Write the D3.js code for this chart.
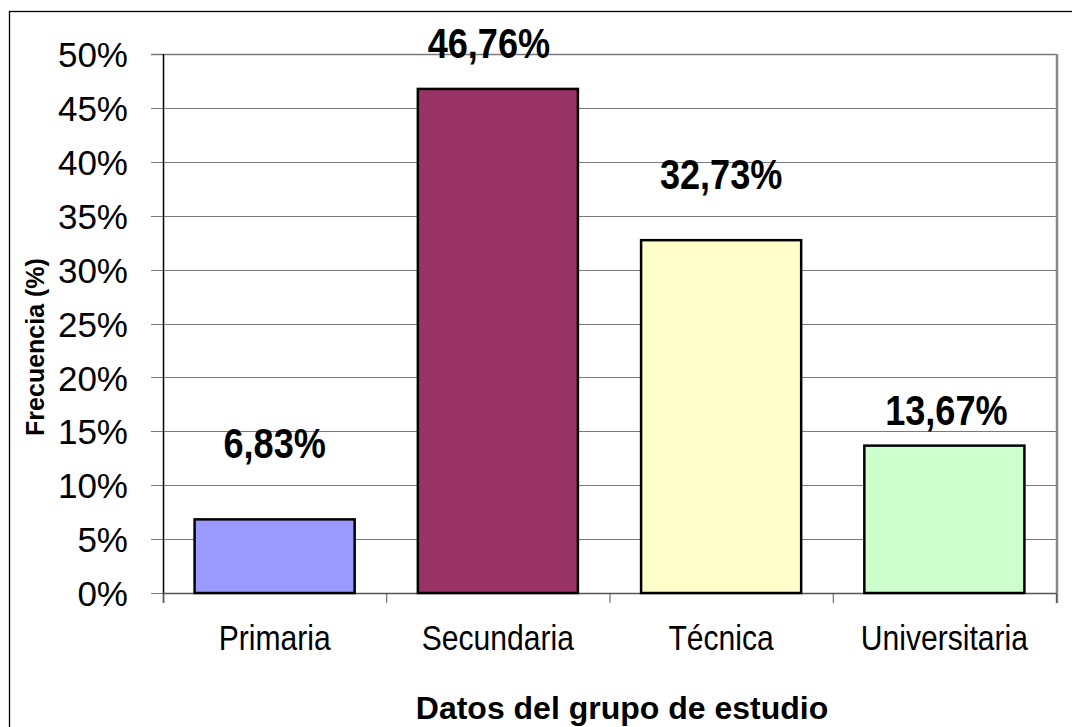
<!DOCTYPE html>
<html>
<head>
<meta charset="utf-8">
<script src="https://cdn.jsdelivr.net/npm/d3@7"></script>
<style>
  html, body { margin: 0; padding: 0; background: #fff; }
  svg { display: block; }
</style>
</head>
<body>
<div id="main"></div>
<script>
// chart values
var categories = ["Primaria", "Secundaria", "Técnica", "Universitaria"];
var values = [6.83, 46.76, 32.73, 13.67];
var valueLabels = ["6,83%", "46,76%", "32,73%", "13,67%"];
var barColors = ["#9999ff", "#993366", "#ffffcc", "#ccffcc"];
var yTicks = [0, 5, 10, 15, 20, 25, 30, 35, 40, 45, 50];
var yTitle = "Frecuencia (%)";
var xTitle = "Datos del grupo de estudio";

var w = 1072, h = 727;
var margin = { top: 54, left: 163, right: 16, bottom: 134 };
var iw = w - margin.left - margin.right,
	ih = h - margin.top - margin.bottom;
var font = "'Liberation Sans', Arial, sans-serif";
var narrow = 0.86; // no Arial Narrow here, so squeeze Liberation Sans

var svg = d3.select("#main")
	.append("svg")
	.attr("width", w)
	.attr("height", h);

// outer chart border (runs off the right and bottom of the picture)
svg.append("rect")
	.attr("x", 9.5).attr("y", 11.5)
	.attr("width", w + 20).attr("height", h + 20)
	.attr("fill", "#fff")
	.attr("stroke", "#000")
	.attr("stroke-width", 1.3);

var g = svg.append("g")
	.attr("transform", "translate(" + margin.left + "," + margin.top + ")");

var x = d3.scaleBand()
	.domain(categories)
	.range([0, iw])
	.paddingInner(0.283)
	.paddingOuter(0.1415);

var y = d3.scaleLinear()
	.domain([0, 50])
	.range([ih, 0]);

// gridlines
g.selectAll(".grid")
	.data(yTicks)
	.enter().append("line")
	.attr("x1", -12).attr("x2", iw)
	.attr("y1", function(d) { return Math.round(y(d)) + 0.5; })
	.attr("y2", function(d) { return Math.round(y(d)) + 0.5; })
	.attr("stroke", "#7a7a7a")
	.attr("stroke-width", function(d) { return d === 50 ? 1.6 : 1.1; });

// right border of plot area
g.append("line")
	.attr("x1", iw + 1).attr("x2", iw + 1)
	.attr("y1", 0).attr("y2", ih + 10)
	.attr("stroke", "#888").attr("stroke-width", 2.5);

// y axis
var yAxis = g.append("g")
	.call(d3.axisLeft(y).tickValues(yTicks).tickSize(0).tickPadding(35)
		.tickFormat(function(d) { return d + "%"; }));
yAxis.select(".domain").remove();
yAxis.selectAll("text")
	.attr("font-family", font)
	.attr("font-size", 35)
	.attr("fill", "#000")
	.attr("dy", "0.36em");

g.append("line")
	.attr("x1", 0.5).attr("x2", 0.5)
	.attr("y1", 0).attr("y2", ih + 10)
	.attr("stroke", "#000").attr("stroke-width", 1.5);

// x axis
var bounds = d3.range(categories.length + 1).map(function(i) { return i * iw / categories.length; });
g.append("line")
	.attr("x1", 0).attr("x2", iw)
	.attr("y1", ih + 0.5).attr("y2", ih + 0.5)
	.attr("stroke", "#555").attr("stroke-width", 1.5);
g.selectAll(".xtick")
	.data(bounds)
	.enter().append("line")
	.attr("x1", function(d) { return d + 0.5; })
	.attr("x2", function(d) { return d + 0.5; })
	.attr("y1", ih).attr("y2", ih + 10)
	.attr("stroke", "#555").attr("stroke-width", 1);

// bars
g.selectAll(".bar")
	.data(values)
	.enter().append("rect")
	.attr("class", "bar")
	.attr("x", function(d, i) { return x(categories[i]); })
	.attr("y", function(d) { return y(d); })
	.attr("width", x.bandwidth())
	.attr("height", function(d) { return ih - y(d); })
	.attr("fill", function(d, i) { return barColors[i]; })
	.attr("stroke", "#000")
	.attr("stroke-width", 2.5);

// category labels
g.selectAll(".cat")
	.data(categories)
	.enter().append("text")
	.attr("transform", function(d) {
		return "translate(" + (x(d) + x.bandwidth() / 2) + "," + (ih + 57) + ") scale(" + narrow + ",1)";
	})
	.attr("text-anchor", "middle")
	.attr("font-family", font)
	.attr("font-size", 35)
	.attr("fill", "#000")
	.text(function(d) { return d; });

// value labels (placed by hand in the original, given in axis units)
var labelAt = [12.52, 49.63, 37.48, 15.58];
var labelDx = [0, -9, 0, 2];
g.selectAll(".val")
	.data(valueLabels)
	.enter().append("text")
	.attr("transform", function(d, i) {
		var cx = x(categories[i]) + x.bandwidth() / 2 + labelDx[i];
		return "translate(" + cx + "," + y(labelAt[i]) + ") scale(" + narrow + ",1)";
	})
	.attr("text-anchor", "middle")
	.attr("font-family", font)
	.attr("font-size", 42)
	.attr("font-weight", "bold")
	.attr("fill", "#000")
	.text(function(d) { return d; });

// axis titles
svg.append("text")
	.attr("transform", "translate(44,347) rotate(-90)")
	.attr("text-anchor", "middle")
	.attr("font-family", font)
	.attr("font-weight", "bold")
	.attr("font-size", 25)
	.attr("fill", "#000")
	.text(yTitle);

svg.append("text")
	.attr("x", 622)
	.attr("y", 719)
	.attr("text-anchor", "middle")
	.attr("font-family", font)
	.attr("font-weight", "bold")
	.attr("font-size", 32)
	.attr("fill", "#000")
	.text(xTitle);
</script>
</body>
</html>
